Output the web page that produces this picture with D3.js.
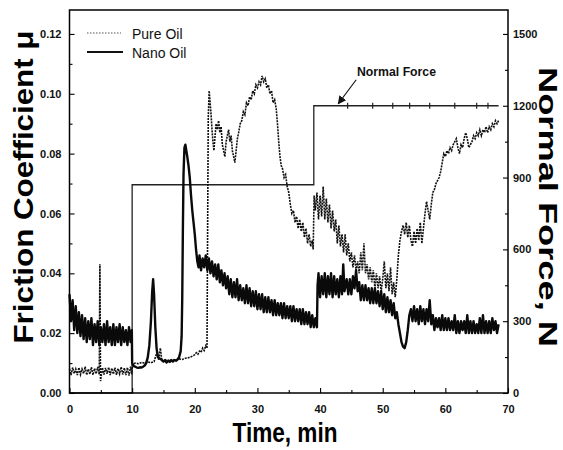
<!DOCTYPE html>
<html><head><meta charset="utf-8">
<script src="https://cdn.jsdelivr.net/npm/d3@7/dist/d3.min.js"></script>
<style>
html,body{margin:0;padding:0;background:#fff;}
svg{display:block;}
.tick text{font-family:"Liberation Sans Narrow","Arial Narrow","Liberation Sans",Arial,sans-serif;font-weight:bold;font-size:11px;fill:#111;}
</style></head>
<body>
<svg id="c" width="563" height="450"></svg>
<script>
// ---------- data ----------
const xTicks = [0,10,20,30,40,50,60,70];
const muTicks = [0,0.02,0.04,0.06,0.08,0.10,0.12];
const forceTicks = [0,300,600,900,1200,1500];
const seriesNames = ["Pure Oil","Nano Oil"];

// Nano Oil friction coefficient [time min, mu]
const nanoOil = [
[0,0.033],[0.25,0.024],[0.5,0.031],[0.75,0.021],[1,0.029],[1.25,0.020],[1.5,0.027],[1.75,0.019],
[2,0.026],[2.25,0.018],[2.5,0.025],[2.75,0.017],[3,0.024],[3.25,0.018],[3.5,0.025],[3.75,0.016],
[4,0.023],[4.25,0.017],[4.5,0.024],[4.75,0.016],[5,0.022],[5.25,0.017],[5.5,0.023],[5.75,0.016],
[6,0.024],[6.25,0.017],[6.5,0.022],[6.75,0.016],[7,0.023],[7.25,0.016],[7.5,0.022],[7.75,0.017],
[8,0.023],[8.25,0.016],[8.5,0.022],[8.75,0.017],[9,0.021],[9.25,0.016],[9.5,0.022],[9.75,0.017],
[9.95,0.021],[10.0,0.010],[10.25,0.009],[10.5,0.0088],[10.75,0.0085],[11,0.0084],[11.25,0.0086],
[11.5,0.0085],[11.75,0.0088],[12,0.0092],[12.25,0.010],[12.5,0.012],[12.75,0.016],[13.0,0.024],
[13.2,0.034],[13.35,0.038],[13.5,0.033],[13.7,0.022],[13.9,0.015],[14.1,0.012],[14.4,0.0115],
[14.75,0.011],[15,0.0105],[15.25,0.011],[15.5,0.0102],[15.75,0.0108],[16,0.0104],[16.25,0.011],
[16.5,0.0105],[16.75,0.011],[17,0.0108],[17.25,0.0112],[17.5,0.012],[17.75,0.014],[17.9,0.019],
[18.0,0.032],[18.1,0.055],[18.2,0.073],[18.35,0.082],[18.5,0.083],[18.65,0.081],[18.8,0.079],
[19.0,0.076],[19.2,0.072],[19.4,0.066],[19.6,0.061],[19.8,0.057],[20.0,0.053],[20.2,0.048],
[20.4,0.044],[20.6,0.042],[20.75,0.046],[21,0.041],[21.25,0.045],[21.5,0.042],[21.75,0.046],
[22,0.041],[22.25,0.045],[22.5,0.040],[22.75,0.044],[23,0.039],[23.25,0.043],[23.5,0.038],
[23.75,0.043],[24,0.037],[24.25,0.041],[24.5,0.036],[24.75,0.040],[25,0.035],[25.25,0.039],
[25.5,0.033],[25.75,0.038],[26,0.032],[26.25,0.037],[26.5,0.032],[26.75,0.038],[27,0.031],
[27.25,0.036],[27.5,0.031],[27.75,0.035],[28,0.030],[28.25,0.036],[28.5,0.030],[28.75,0.035],
[29,0.029],[29.25,0.034],[29.5,0.029],[29.75,0.034],[30,0.028],[30.25,0.033],[30.5,0.028],
[30.75,0.033],[31,0.027],[31.25,0.032],[31.5,0.027],[31.75,0.032],[32,0.027],[32.25,0.031],
[32.5,0.026],[32.75,0.031],[33,0.026],[33.25,0.030],[33.5,0.026],[33.75,0.030],[34,0.025],
[34.25,0.030],[34.5,0.025],[34.75,0.029],[35,0.025],[35.25,0.029],[35.5,0.024],[35.75,0.029],
[36,0.024],[36.25,0.028],[36.5,0.024],[36.75,0.028],[37,0.023],[37.25,0.028],[37.5,0.023],
[37.75,0.027],[38,0.023],[38.25,0.027],[38.5,0.022],[38.75,0.026],[39,0.022],[39.25,0.025],
[39.5,0.022],[39.6,0.036],[39.75,0.040],[40,0.032],[40.25,0.039],[40.5,0.033],[40.75,0.040],
[41,0.032],[41.25,0.039],[41.5,0.033],[41.75,0.040],[42,0.032],[42.25,0.039],[42.5,0.033],
[42.75,0.038],[43,0.032],[43.25,0.039],[43.5,0.033],[43.7,0.043],[43.9,0.034],[44.25,0.038],
[44.5,0.033],[44.75,0.038],[45,0.033],[45.25,0.039],[45.5,0.035],[45.75,0.041],[46,0.034],
[46.25,0.037],[46.5,0.031],[46.75,0.036],[47,0.031],[47.25,0.036],[47.5,0.031],[47.75,0.035],
[48,0.030],[48.25,0.035],[48.5,0.030],[48.75,0.035],[49,0.030],[49.25,0.034],[49.5,0.029],
[49.75,0.034],[50,0.028],[50.25,0.033],[50.5,0.027],[50.75,0.032],[51,0.027],[51.25,0.031],
[51.5,0.026],[51.75,0.030],[52,0.025],[52.25,0.027],[52.5,0.023],[52.75,0.020],[53,0.017],
[53.25,0.0155],[53.5,0.015],[53.75,0.017],[54,0.021],[54.25,0.026],[54.5,0.028],[54.75,0.024],
[55,0.029],[55.25,0.024],[55.5,0.028],[55.75,0.023],[56,0.029],[56.25,0.024],[56.5,0.028],
[56.75,0.023],[57,0.028],[57.25,0.024],[57.5,0.031],[57.75,0.023],[58,0.026],[58.25,0.021],
[58.5,0.025],[58.75,0.022],[59,0.025],[59.25,0.021],[59.5,0.026],[59.75,0.021],[60,0.025],
[60.25,0.021],[60.5,0.025],[60.75,0.021],[61,0.024],[61.25,0.021],[61.5,0.026],[61.75,0.020],
[62,0.024],[62.25,0.020],[62.5,0.024],[62.75,0.021],[63,0.024],[63.25,0.020],[63.5,0.026],
[63.75,0.020],[64,0.024],[64.25,0.020],[64.5,0.024],[64.75,0.020],[65,0.023],[65.25,0.020],
[65.5,0.025],[65.75,0.020],[66,0.026],[66.25,0.020],[66.5,0.024],[66.75,0.020],[67,0.024],
[67.25,0.020],[67.5,0.025],[67.75,0.021],[68,0.024],[68.25,0.020],[68.5,0.023]
];

// Pure Oil friction coefficient [time min, mu]
const pureOil = [
[0,0.008],[0.25,0.006],[0.5,0.0085],[0.75,0.0065],[1,0.008],[1.25,0.006],[1.5,0.0085],[1.75,0.0062],
[2,0.008],[2.25,0.0065],[2.5,0.0088],[2.75,0.006],[3,0.008],[3.25,0.0063],[3.5,0.0086],[3.75,0.006],
[4,0.0082],[4.25,0.0064],[4.5,0.0087],[4.75,0.0062],[4.85,0.043],[4.95,0.004],[5.25,0.0085],
[5.5,0.0062],[5.75,0.0084],[6,0.0064],[6.25,0.0086],[6.5,0.006],[6.75,0.0083],[7,0.0063],
[7.25,0.0085],[7.5,0.0061],[7.75,0.0082],[8,0.0064],[8.25,0.0087],[8.5,0.0062],[8.75,0.0084],
[9,0.0060],[9.25,0.0085],[9.5,0.0058],[9.75,0.0088],[9.95,0.0062],[10.05,0.0095],[10.5,0.0100],
[11,0.0098],[11.5,0.0102],[12,0.0100],[12.5,0.0104],[13,0.0101],[13.5,0.0105],[14,0.0140],
[14.25,0.0110],[14.5,0.0150],[14.75,0.0108],[15,0.0106],[15.5,0.0110],[16,0.0108],[16.5,0.0112],
[17,0.0110],[17.5,0.0114],[18,0.0112],[18.5,0.0116],[19,0.0118],[19.5,0.0122],[20,0.0128],
[20.25,0.0135],[20.5,0.0130],[20.75,0.0140],[21,0.0136],[21.25,0.0150],[21.5,0.0142],[21.75,0.0158],
[21.95,0.0150],[22.05,0.055],[22.15,0.092],[22.3,0.101],[22.45,0.097],[22.6,0.093],[22.75,0.088],
[22.9,0.084],[23.05,0.081],[23.2,0.085],[23.4,0.090],[23.6,0.088],[23.8,0.091],[24,0.087],
[24.2,0.089],[24.4,0.083],[24.6,0.081],[24.8,0.079],[25,0.084],[25.2,0.086],[25.4,0.088],
[25.6,0.084],[25.8,0.086],[26,0.081],[26.2,0.079],[26.4,0.077],[26.6,0.081],[26.8,0.085],
[27,0.087],[27.25,0.090],[27.5,0.091],[27.75,0.094],[28,0.093],[28.25,0.097],[28.5,0.096],
[28.75,0.099],[29,0.098],[29.25,0.101],[29.5,0.100],[29.75,0.103],[30,0.102],[30.25,0.104],
[30.5,0.103],[30.75,0.106],[31,0.104],[31.25,0.105],[31.5,0.102],[31.75,0.103],[32,0.100],
[32.25,0.101],[32.5,0.097],[32.75,0.098],[33,0.095],[33.2,0.090],[33.4,0.084],[33.6,0.079],
[33.8,0.076],[34,0.075],[34.25,0.072],[34.5,0.073],[34.75,0.069],[35,0.067],[35.25,0.063],
[35.5,0.060],[35.75,0.061],[36,0.057],[36.25,0.059],[36.5,0.055],[36.75,0.058],[37,0.054],
[37.25,0.057],[37.5,0.052],[37.75,0.055],[38,0.050],[38.25,0.053],[38.5,0.049],[38.75,0.051],
[38.9,0.048],[39.05,0.066],[39.25,0.061],[39.5,0.067],[39.75,0.058],[40,0.066],[40.25,0.059],
[40.5,0.069],[40.75,0.058],[41,0.065],[41.25,0.057],[41.5,0.063],[41.75,0.055],[42,0.061],
[42.25,0.054],[42.5,0.058],[42.75,0.050],[43,0.056],[43.25,0.049],[43.5,0.053],[43.75,0.047],
[44,0.053],[44.25,0.046],[44.5,0.050],[44.75,0.044],[45,0.047],[45.25,0.042],[45.5,0.046],
[45.75,0.041],[46,0.044],[46.25,0.040],[46.5,0.047],[46.75,0.041],[47,0.050],[47.25,0.040],
[47.5,0.043],[47.75,0.038],[48,0.042],[48.25,0.037],[48.5,0.041],[48.75,0.035],[49,0.040],
[49.25,0.035],[49.5,0.039],[49.75,0.034],[50,0.038],[50.25,0.044],[50.5,0.035],[50.75,0.040],
[51,0.034],[51.25,0.042],[51.5,0.033],[51.75,0.037],[52,0.032],[52.25,0.038],[52.5,0.046],
[52.75,0.051],[53,0.054],[53.25,0.056],[53.5,0.053],[53.75,0.057],[54,0.052],[54.25,0.056],
[54.5,0.051],[54.75,0.049],[55,0.054],[55.25,0.050],[55.5,0.055],[55.75,0.051],[56,0.057],
[56.25,0.050],[56.5,0.055],[56.75,0.060],[57,0.064],[57.25,0.061],[57.5,0.058],[57.75,0.063],
[58,0.067],[58.25,0.068],[58.5,0.070],[58.75,0.071],[59,0.072],[59.25,0.074],[59.5,0.077],
[59.75,0.080],[60,0.079],[60.25,0.081],[60.5,0.080],[60.75,0.082],[61,0.081],[61.25,0.083],
[61.5,0.084],[61.75,0.085],[62,0.082],[62.25,0.080],[62.5,0.083],[62.75,0.082],[63,0.085],
[63.25,0.087],[63.5,0.085],[63.75,0.082],[64,0.083],[64.25,0.084],[64.5,0.086],[64.75,0.085],
[65,0.087],[65.25,0.086],[65.5,0.088],[65.75,0.086],[66,0.088],[66.25,0.087],[66.5,0.089],
[66.75,0.087],[67,0.089],[67.25,0.088],[67.5,0.090],[67.75,0.089],[68,0.091],[68.25,0.090],[68.5,0.091]
];

// Normal force [time min, N]
const normalForce = [[0,0],[10,0],[10,870],[39,870],[39,1200],[68.5,1200]];
const forceMarkTimes = [44.4,48.4,51.6,54.3,57.5,61.5,65,66.8];

// ---------- chart ----------
const svg = d3.select("#c");
const x = d3.scaleLinear().domain([0,70]).range([69.5,508]);
const y = d3.scaleLinear().domain([0,0.128]).range([393,10]);
const yR = d3.scaleLinear().domain([0,1600]).range([393,10]);

const line = d3.line().x(d=>x(d[0])).y(d=>y(d[1]));
const lineF = d3.line().x(d=>x(d[0])).y(d=>yR(d[1]));

const plot = svg.append("g");
plot.append("path").datum(normalForce).attr("d",lineF)
  .attr("fill","none").attr("stroke","#222").attr("stroke-width",1.3);
plot.selectAll(".fm").data(forceMarkTimes).enter().append("line")
  .attr("x1",d=>x(d)).attr("x2",d=>x(d))
  .attr("y1",yR(1200)-3).attr("y2",yR(1200)+3)
  .attr("stroke","#222").attr("stroke-width",1.2);

plot.append("path").datum(pureOil).attr("d",line)
  .attr("fill","none").attr("stroke","#111").attr("stroke-width",1.6)
  .attr("stroke-dasharray","2,1");
plot.append("path").datum(nanoOil).attr("d",line)
  .attr("fill","none").attr("stroke","#0a0a0a").attr("stroke-width",2.4)
  .attr("stroke-linejoin","round");

// axes
function styleAxis(g){ g.select(".domain").remove(); g.selectAll(".tick line").attr("stroke","#000").attr("stroke-width",1.1); }
const minorMu = d3.range(0.01,0.125,0.02);
svg.append("g").attr("transform","translate(69.5,0)")
  .call(d3.axisLeft(y).tickValues(muTicks).tickFormat(d3.format(".2f")).tickSize(-5).tickPadding(8)).call(styleAxis);
svg.append("g").attr("transform","translate(69.5,0)")
  .call(d3.axisLeft(y).tickValues(minorMu).tickFormat("").tickSize(-3)).call(styleAxis);

svg.append("g").attr("transform","translate(0,393)")
  .call(d3.axisBottom(x).tickValues(xTicks).tickSize(-5).tickPadding(12)).call(styleAxis);
svg.append("g").attr("transform","translate(0,393)")
  .call(d3.axisBottom(x).tickValues(d3.range(5,70,10)).tickFormat("").tickSize(-3)).call(styleAxis);

svg.append("g").attr("transform","translate(508,0)")
  .call(d3.axisRight(yR).tickValues(forceTicks).tickFormat(d3.format("d")).tickSize(-5).tickPadding(5)).call(styleAxis);
svg.append("g").attr("transform","translate(508,0)")
  .call(d3.axisRight(yR).tickValues(d3.range(150,1600,300)).tickFormat("").tickSize(-3)).call(styleAxis);

// frame
svg.append("rect").attr("x",69.5).attr("y",10).attr("width",438.5).attr("height",383)
  .attr("fill","none").attr("stroke","#000").attr("stroke-width",1.5);

// titles
const tf = "'Liberation Sans',Arial,sans-serif";
svg.append("text").attr("transform","translate(33,187) rotate(-90)")
  .attr("text-anchor","middle").attr("font-family",tf).attr("font-weight","bold")
  .attr("font-size",27).attr("textLength",313).attr("lengthAdjust","spacingAndGlyphs")
  .text("Friction Coefficient μ");
svg.append("text").attr("x",285).attr("y",442)
  .attr("text-anchor","middle").attr("font-family",tf).attr("font-weight","bold")
  .attr("font-size",27).attr("textLength",105).attr("lengthAdjust","spacingAndGlyphs")
  .text("Time, min");
svg.append("text").attr("transform","translate(539,207) rotate(90)")
  .attr("text-anchor","middle").attr("font-family",tf).attr("font-weight","bold")
  .attr("font-size",25).attr("textLength",280).attr("lengthAdjust","spacingAndGlyphs")
  .text("Normal Force, N");

// legend
const lg = svg.append("g");
lg.append("line").attr("x1",87).attr("x2",121).attr("y1",33).attr("y2",33)
  .attr("stroke","#555").attr("stroke-width",1.2).attr("stroke-dasharray","1.5,1.5");
lg.append("line").attr("x1",87).attr("x2",123).attr("y1",52).attr("y2",52)
  .attr("stroke","#111").attr("stroke-width",2);
lg.append("text").attr("x",132).attr("y",38.5).attr("font-family",tf).attr("font-size",14).attr("fill","#111").text(seriesNames[0]);
lg.append("text").attr("x",132).attr("y",57.5).attr("font-family",tf).attr("font-size",14).attr("fill","#111").text(seriesNames[1]);

// annotation
const ax = x(42.9), ay = yR(1200)-2;
svg.append("defs").append("marker").attr("id","ah").attr("viewBox","0 0 10 10")
  .attr("refX",9).attr("refY",5).attr("markerWidth",7).attr("markerHeight",7).attr("orient","auto")
  .append("path").attr("d","M0,0 L10,5 L0,10 z").attr("fill","#111");
svg.append("line").attr("x1",ax+18).attr("y1",ay-24).attr("x2",ax).attr("y2",ay)
  .attr("stroke","#111").attr("stroke-width",1.2).attr("marker-end","url(#ah)");
svg.append("text").attr("x",x(45.9)).attr("y",yR(1200)-30).attr("font-family",tf)
  .attr("font-weight","bold").attr("font-size",12.5).attr("textLength",79).attr("lengthAdjust","spacingAndGlyphs")
  .attr("fill","#111").text("Normal Force");
</script>
</body></html>
